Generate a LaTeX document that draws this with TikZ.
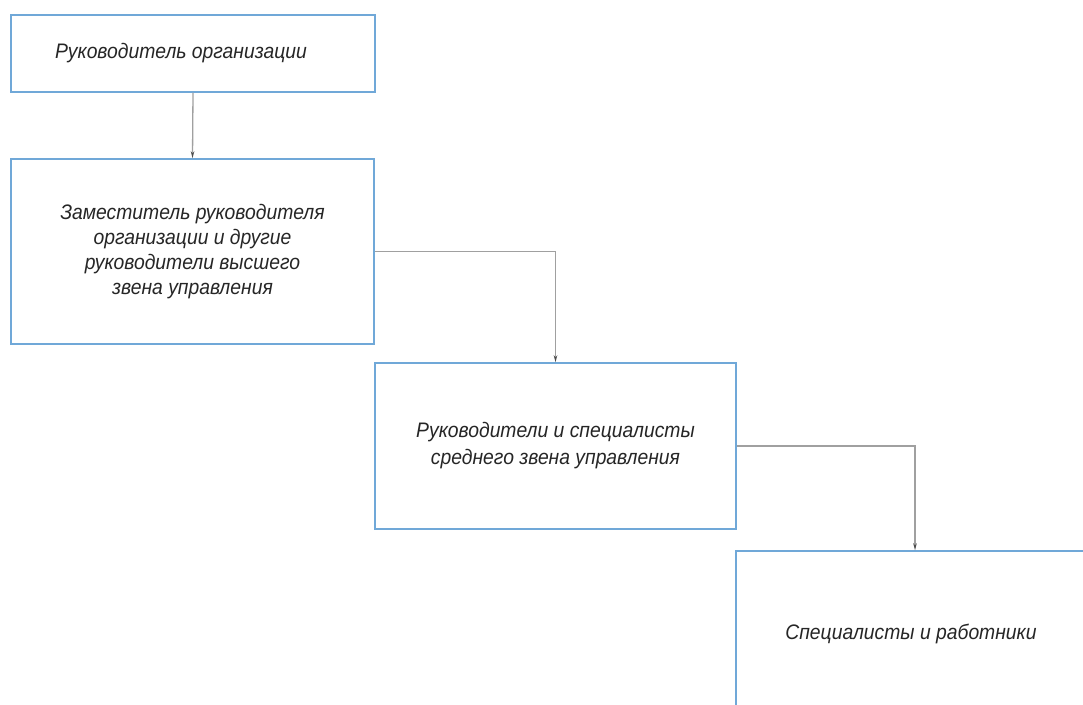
\documentclass[tikz,border=0pt]{standalone}
\usepackage{fontspec}
\setmainfont{Liberation Sans}
\newfontfamily\gost[FakeStretch=0.92]{Liberation Sans}
\usetikzlibrary{arrows.meta}
\definecolor{boxblue}{RGB}{112,168,216}
\definecolor{conngray}{RGB}{160,160,160}
\begin{document}
\begin{tikzpicture}[x=1pt,y=-1pt,
  box/.style={draw=boxblue, line width=1.5pt, inner sep=0pt, align=center,
    font=\gost\fontsize{21}{25}\selectfont\itshape, text=black!85},
  conn/.style={draw=conngray, line width=1.3pt,
    -{Stealth[length=7pt,width=3.5pt,color=black!70]}}]
\useasboundingbox (0,0) rectangle (1083,704);
\clip (0,0) rectangle (1083,704);
\fill[white] (0,0) rectangle (1083,704);
\node[box, minimum width=364pt, minimum height=77pt] (b1) at (193,53.5)
  {Руководитель организации\hspace*{24pt}};
\node[box, minimum width=363pt, minimum height=185pt] (b2) at (192.5,251.5)
  {Заместитель руководителя\\организации и другие\\руководители высшего\\звена управления};
\node[box, minimum width=361pt, minimum height=166pt, font=\gost\fontsize{21}{27}\selectfont\itshape] (b3) at (555.5,446)
  {Руководители и специалисты\\среднего звена управления};
\node[box, minimum width=358pt, minimum height=166pt] (b4) at (915,634)
  {\hspace*{-8pt}Специалисты и работники};
\draw[conn] (b1.south) -- (b2.north);
\draw[conn] (b2.east) -| (b3.north);
\draw[conn] (b3.east) -| (b4.north);
\end{tikzpicture}
\end{document}
